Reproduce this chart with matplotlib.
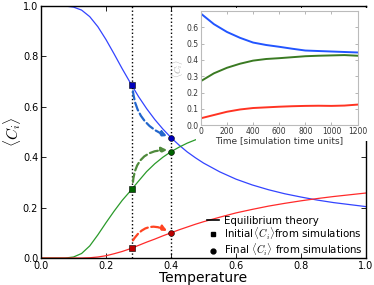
import matplotlib
matplotlib.use("Agg")
import matplotlib.pyplot as plt
from matplotlib.lines import Line2D
from matplotlib.patches import Rectangle

plt.rcParams['mathtext.fontset'] = 'cm'
plt.rcParams['font.family'] = 'DejaVu Sans'

# Equilibrium theory curves
temp = [0.0, 0.025, 0.05, 0.075, 0.1, 0.125, 0.15, 0.175, 0.2, 0.225, 0.25, 0.275,
        0.3, 0.325, 0.35, 0.375, 0.4, 0.425, 0.45, 0.475, 0.5, 0.55, 0.6, 0.65,
        0.7, 0.75, 0.8, 0.85, 0.9, 0.95, 1.0]
c_blue = [1.0, 1.0, 1.0, 1.0, 0.996, 0.984, 0.958, 0.918, 0.867, 0.810, 0.751, 0.695,
          0.641, 0.593, 0.550, 0.512, 0.478, 0.448, 0.421, 0.398, 0.377, 0.342, 0.313, 0.290,
          0.271, 0.255, 0.242, 0.230, 0.220, 0.212, 0.204]
c_green = [0.0, 0.0, 0.0, 0.0, 0.004, 0.018, 0.048, 0.092, 0.140, 0.186, 0.229, 0.266,
           0.305, 0.343, 0.374, 0.400, 0.422, 0.440, 0.456, 0.469, 0.479, 0.496, 0.508, 0.517,
           0.523, 0.528, 0.532, 0.534, 0.536, 0.537, 0.538]
c_red = [0.0, 0.0, 0.0, 0.0, 0.0, 0.0, 0.001, 0.004, 0.009, 0.017, 0.026, 0.037,
         0.050, 0.063, 0.075, 0.088, 0.100, 0.112, 0.123, 0.134, 0.144, 0.162, 0.179, 0.193,
         0.206, 0.217, 0.227, 0.236, 0.244, 0.251, 0.258]

# simulation points
t_init, t_final = 0.28, 0.40
init_vals = [0.687, 0.272, 0.040]
final_vals = [0.476, 0.421, 0.100]

# inset: time evolution
time = [0, 100, 200, 300, 400, 500, 600, 700, 800, 900, 1000, 1100, 1200]
sim_blue = [0.685, 0.620, 0.572, 0.536, 0.507, 0.492, 0.481, 0.469, 0.458, 0.455, 0.452, 0.449, 0.446]
sim_green = [0.270, 0.318, 0.352, 0.377, 0.396, 0.406, 0.411, 0.417, 0.423, 0.426, 0.428, 0.430, 0.426]
sim_red = [0.042, 0.062, 0.082, 0.096, 0.105, 0.109, 0.113, 0.116, 0.118, 0.119, 0.118, 0.120, 0.126]

line_cols = ['#3344ff', '#2a9a2a', '#ff2a2a']
mark_cols = ['#0000bb', '#006400', '#bb0000']
arrow_cols = ['#2266cc', '#4f8a3c', '#ff4422']

fig = plt.figure(figsize=(3.74, 2.85), dpi=100)
ax = fig.add_axes([0.1096, 0.0947, 0.869, 0.884])

for ys, c in zip([c_blue, c_green, c_red], line_cols):
    ax.plot(temp, ys, color=c, lw=0.9)

ax.axvline(t_init, color='black', ls=':', lw=1.0)
ax.axvline(t_final, color='black', ls=':', lw=1.0)

# curved dashed arrows from initial to final values
rads = [0.3, -0.45, -0.45]
offs = [-0.025, 0.03, 0.03]
for i in range(3):
    ax.annotate('', xy=(t_final - 0.012, final_vals[i] + 0.008),
                xytext=(t_init + 0.003, init_vals[i] + offs[i]),
                arrowprops=dict(arrowstyle='-|>', color=arrow_cols[i], lw=1.6, ls='--',
                                connectionstyle='arc3,rad=%s' % rads[i], mutation_scale=8,
                                shrinkA=0, shrinkB=0))

for i in range(3):
    ax.plot([t_init], [init_vals[i]], 's', color=mark_cols[i], mec='black', mew=0.4, ms=4.2, zorder=5)
    ax.plot([t_final], [final_vals[i]], 'o', color=mark_cols[i], mec='black', mew=0.4, ms=4.2, zorder=5)

ax.set_xlim(0, 1)
ax.set_ylim(0, 1)
ax.set_xticks([0.0, 0.2, 0.4, 0.6, 0.8, 1.0])
ax.set_yticks([0.0, 0.2, 0.4, 0.6, 0.8, 1.0])
ax.tick_params(direction='in', top=True, right=True, labelsize=7, length=3.5, width=0.6, pad=2)
for s in ax.spines.values():
    s.set_linewidth(1.0)
ax.set_xlabel('Temperature', fontsize=10, labelpad=0)
ax.set_ylabel(r'$\langle C_i \rangle$', fontsize=11, labelpad=0)

handles = [Line2D([], [], color='black', lw=1.2),
           Line2D([], [], color='black', marker='s', ls='none', ms=3.5),
           Line2D([], [], color='black', marker='o', ls='none', ms=3.5)]
labels = ['Equilibrium theory',
          r'Initial$\,\langle C_i \rangle$from simulations',
          r'Final $\langle C_i \rangle$ from simulations']
ax.legend(handles, labels, loc='lower right', bbox_to_anchor=(1.0, -0.012),
          frameon=False, fontsize=7.4, handlelength=1.2, handletextpad=0.5,
          labelspacing=0.0, borderaxespad=0.0, borderpad=0.3)

# white box behind the inset
fig.patches.append(Rectangle((0.524, 0.505), 0.462, 0.467, transform=fig.transFigure,
                             facecolor='white', edgecolor='none', zorder=1))

ins = fig.add_axes([0.537, 0.561, 0.419, 0.40])
ins.set_zorder(2)
ins.plot(time, sim_blue, color='#2255ff', lw=1.4)
ins.plot(time, sim_green, color='#3a7a22', lw=1.4)
ins.plot(time, sim_red, color='#ff3322', lw=1.4)
ins.set_xlim(0, 1200)
ins.set_ylim(0, 0.7)
ins.set_xticks([0, 200, 400, 600, 800, 1000, 1200])
ins.set_yticks([0.0, 0.1, 0.2, 0.3, 0.4, 0.5, 0.6])
ins.tick_params(direction='in', top=True, right=True, labelsize=5.5, length=2,
                width=0.5, pad=1.5, colors='#999999', labelcolor='#333333')
for s in ins.spines.values():
    s.set_color('#bbbbbb')
    s.set_linewidth(0.8)
ins.set_xlabel('Time [simulation time units]', fontsize=6.5, labelpad=0, color='#333333')
ins.set_ylabel(r'$\langle C_i \rangle$', fontsize=6.5, labelpad=1, color='#aaaaaa')

fig.savefig('out.png', dpi=100)
